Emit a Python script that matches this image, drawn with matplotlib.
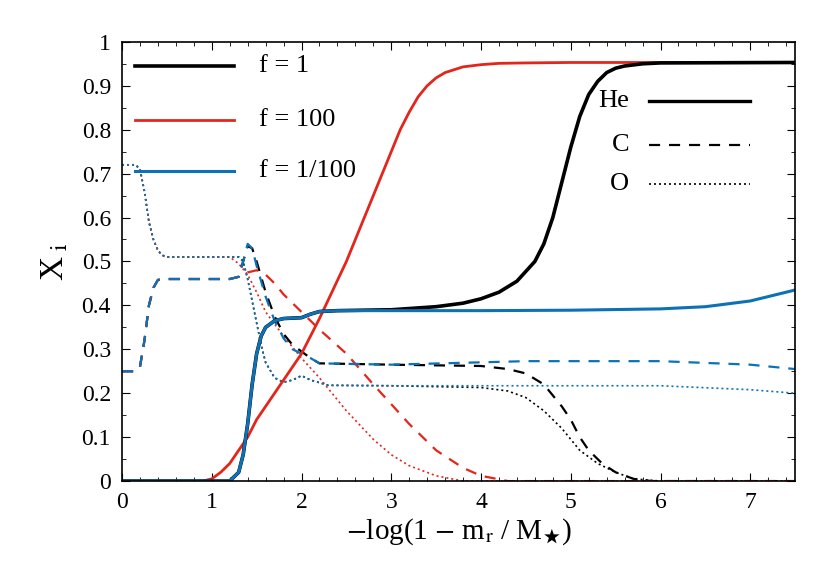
import numpy as np
import matplotlib
matplotlib.use('Agg')
import matplotlib.pyplot as plt
from matplotlib.ticker import MultipleLocator

plt.rcParams['font.family'] = 'Liberation Serif'
plt.rcParams['mathtext.fontset'] = 'stix'

# He
he1_x = [0, 1.2, 1.3, 1.35, 1.4, 1.45, 1.5, 1.55, 1.6, 1.7, 1.8, 2.0, 2.1, 2.2, 2.4, 3.0, 3.5, 3.8, 4.0, 4.2, 4.4, 4.6, 4.7, 4.8, 4.9, 5.0, 5.1, 5.2, 5.3, 5.4, 5.5, 5.6, 5.8, 6.0, 7.5]
he1_y = [0, 0, 0.02, 0.06, 0.13, 0.22, 0.29, 0.33, 0.35, 0.365, 0.37, 0.372, 0.38, 0.386, 0.388, 0.39, 0.397, 0.405, 0.415, 0.43, 0.455, 0.5, 0.54, 0.6, 0.68, 0.76, 0.83, 0.88, 0.91, 0.93, 0.94, 0.945, 0.95, 0.952, 0.953]
he3_x = [0, 1.2, 1.3, 1.35, 1.4, 1.45, 1.5, 1.55, 1.6, 1.7, 1.8, 2.0, 2.1, 2.2, 2.4, 3.0, 4.0, 5.0, 6.0, 6.5, 7.0, 7.5]
he3_y = [0, 0, 0.02, 0.06, 0.13, 0.22, 0.29, 0.33, 0.35, 0.365, 0.37, 0.372, 0.38, 0.386, 0.388, 0.388, 0.388, 0.389, 0.392, 0.397, 0.41, 0.435]
he2_x = [0, 0.9, 1.0, 1.1, 1.2, 1.3, 1.4, 1.5, 1.7, 2.0, 2.2, 2.5, 2.7, 2.9, 3.0, 3.1, 3.2, 3.3, 3.4, 3.5, 3.6, 3.8, 4.0, 4.2, 4.5, 5.0, 7.5]
he2_y = [0, 0, 0.005, 0.02, 0.04, 0.07, 0.1, 0.14, 0.2, 0.29, 0.37, 0.5, 0.6, 0.7, 0.75, 0.8, 0.84, 0.875, 0.9, 0.918, 0.93, 0.943, 0.948, 0.951, 0.952, 0.953, 0.953]
# C
c1_x = [0, 0.15, 0.2, 0.25, 0.3, 0.35, 0.4, 0.5, 1.2, 1.3, 1.35, 1.4, 1.45, 1.5, 1.6, 1.7, 1.8, 1.9, 2.0, 2.1, 2.2, 3.0, 4.0, 4.3, 4.5, 4.7, 4.9, 5.0, 5.1, 5.2, 5.35, 5.5, 5.7, 5.9, 7.5]
c1_y = [0.25, 0.25, 0.26, 0.32, 0.4, 0.44, 0.458, 0.46, 0.46, 0.465, 0.5, 0.535, 0.53, 0.5, 0.43, 0.375, 0.335, 0.31, 0.295, 0.28, 0.268, 0.265, 0.262, 0.255, 0.245, 0.22, 0.17, 0.14, 0.1, 0.07, 0.04, 0.02, 0.005, 0, 0]
c3_x = [0, 0.15, 0.2, 0.25, 0.3, 0.35, 0.4, 0.5, 1.2, 1.3, 1.35, 1.4, 1.45, 1.5, 1.6, 1.7, 1.8, 1.9, 2.0, 2.1, 2.2, 3.0, 4.5, 6.0, 7.0, 7.5]
c3_y = [0.25, 0.25, 0.26, 0.32, 0.4, 0.44, 0.458, 0.46, 0.46, 0.465, 0.5, 0.54, 0.53, 0.49, 0.42, 0.365, 0.325, 0.3, 0.29, 0.28, 0.268, 0.265, 0.273, 0.273, 0.265, 0.255]
c2_x = [0, 0.15, 0.2, 0.25, 0.3, 0.35, 0.4, 0.5, 1.2, 1.3, 1.4, 1.5, 1.6, 1.7, 1.8, 2.0, 2.2, 2.5, 2.8, 3.0, 3.2, 3.5, 3.8, 4.0, 4.3, 7.5]
c2_y = [0.25, 0.25, 0.26, 0.32, 0.4, 0.44, 0.458, 0.46, 0.46, 0.465, 0.475, 0.48, 0.47, 0.45, 0.425, 0.385, 0.345, 0.29, 0.22, 0.175, 0.13, 0.07, 0.03, 0.012, 0, 0]
# O
o1_x = [0, 0.15, 0.2, 0.25, 0.3, 0.35, 0.4, 0.45, 0.5, 1.3, 1.35, 1.4, 1.45, 1.5, 1.55, 1.6, 1.7, 1.8, 1.9, 2.0, 2.1, 2.3, 3.0, 4.0, 4.3, 4.5, 4.7, 4.9, 5.1, 5.3, 5.5, 5.7, 6.0, 7.5]
o1_y = [0.72, 0.72, 0.71, 0.66, 0.59, 0.55, 0.525, 0.514, 0.51, 0.51, 0.5, 0.46, 0.41, 0.36, 0.31, 0.27, 0.235, 0.225, 0.23, 0.24, 0.23, 0.218, 0.217, 0.213, 0.205, 0.19, 0.16, 0.12, 0.07, 0.04, 0.02, 0.005, 0, 0]
o3_x = [0, 0.15, 0.2, 0.25, 0.3, 0.35, 0.4, 0.45, 0.5, 1.3, 1.35, 1.4, 1.45, 1.5, 1.55, 1.6, 1.7, 1.8, 1.9, 2.0, 2.1, 2.3, 3.0, 4.0, 5.0, 6.0, 7.0, 7.5]
o3_y = [0.72, 0.72, 0.71, 0.66, 0.59, 0.55, 0.525, 0.514, 0.51, 0.51, 0.5, 0.46, 0.41, 0.36, 0.31, 0.27, 0.235, 0.225, 0.23, 0.24, 0.23, 0.218, 0.217, 0.217, 0.217, 0.217, 0.208, 0.2]
o2_x = [0, 0.15, 0.2, 0.25, 0.3, 0.35, 0.4, 0.45, 0.5, 1.2, 1.3, 1.4, 1.5, 1.6, 1.8, 2.0, 2.2, 2.5, 2.8, 3.0, 3.2, 3.5, 3.8, 7.5]
o2_y = [0.72, 0.72, 0.71, 0.66, 0.59, 0.55, 0.525, 0.514, 0.51, 0.51, 0.495, 0.47, 0.43, 0.385, 0.33, 0.28, 0.235, 0.16, 0.095, 0.06, 0.035, 0.012, 0, 0]

black = 'black'
red = '#e3261c'
blue = '#0c72b5'
dash = (0, (5, 4))
dot = (0, (1.2, 1.8))

fig = plt.figure(figsize=(8.3, 5.81), dpi=100)
ax = fig.add_axes([0.147, 0.172, 0.811, 0.756])

# O and C first, He on top
for xs, ys, c in [(o1_x, o1_y, black), (o2_x, o2_y, red), (o3_x, o3_y, blue)]:
    ax.plot(xs, ys, color=c, lw=1.2, ls=dot)
for xs, ys, c in [(c1_x, c1_y, black), (c2_x, c2_y, red), (c3_x, c3_y, blue)]:
    ax.plot(xs, ys, color=c, lw=1.6, ls=dash)
ax.plot(he2_x, he2_y, color=red, lw=2)
ax.plot(he1_x, he1_y, color=black, lw=2.6)
ax.plot(he3_x, he3_y, color=blue, lw=2.2)

ax.set_xlim(0, 7.5)
ax.set_ylim(0, 1)
ax.xaxis.set_major_locator(MultipleLocator(1))
ax.xaxis.set_minor_locator(MultipleLocator(0.2))
ax.yaxis.set_major_locator(MultipleLocator(0.1))
ax.yaxis.set_minor_locator(MultipleLocator(0.05))
ax.yaxis.set_major_formatter(plt.FuncFormatter(lambda v, p: '0' if v == 0 else ('1' if v == 1 else f'{v:.1f}')))
ax.tick_params(which='both', direction='in', top=True, right=True, labelsize=17, pad=8)
ax.tick_params(which='major', length=6)
ax.tick_params(which='minor', length=3)
for s in ax.spines.values():
    s.set_linewidth(1.2)

ax.set_xlabel(r'$-$log(1 $-$ m$_\mathrm{r}$ / M$_\bigstar$)', fontsize=21, labelpad=2)
ax.set_ylabel(r'X$_\mathrm{\ i}$', fontsize=24, labelpad=8)

# legend 1 (colours)
for yy, lbl, c, lw in [(0.944, 'f = 1', black, 2.6), (0.823, 'f = 100', red, 2), (0.705, 'f = 1/100', blue, 2.2)]:
    ax.plot([0.14, 1.25], [yy, yy], color=c, lw=lw)
    ax.text(1.53, yy, lbl, fontsize=19, va='center', ha='left')
# legend 2 (species)
for yy, lbl, ls, lw in [(0.865, 'He', '-', 2.4), (0.765, 'C', dash, 1.6), (0.676, 'O', dot, 1.2)]:
    ax.plot([5.87, 7.0], [yy, yy], color=black, ls=ls, lw=lw)
    ax.text(5.65, yy, lbl, fontsize=19, va='center', ha='right')

fig.savefig('out.png', dpi=100)
